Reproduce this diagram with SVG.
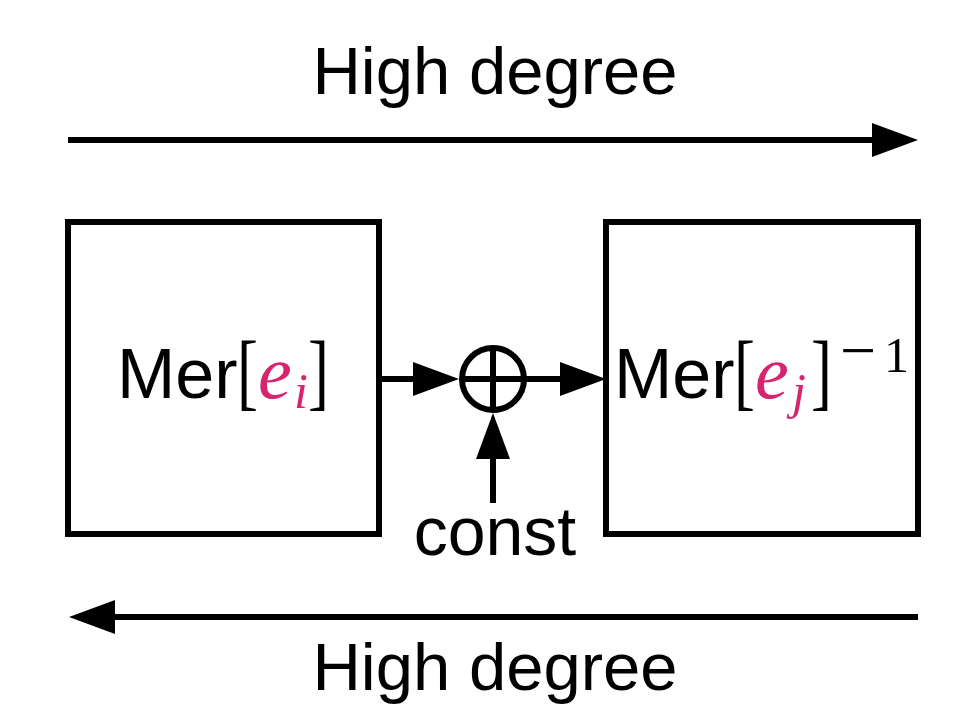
<svg xmlns="http://www.w3.org/2000/svg" width="963" height="714" viewBox="0 0 963 714">
<style>
.sans{font-family:"Liberation Sans",Arial,sans-serif;fill:#000}
.serif{font-family:"Liberation Serif","Times New Roman",serif;fill:#000}
.br{font-family:"Liberation Serif","Times New Roman",serif;fill:#000;font-size:84px}
.mi{font-family:"Liberation Serif","Times New Roman",serif;font-style:italic;fill:#d6246e}
.ln{stroke:#000;stroke-width:6;fill:none}
.box{stroke:#000;stroke-width:6;fill:#fff}
</style>
<defs>
<marker id="ah" markerUnits="userSpaceOnUse" markerWidth="46" markerHeight="34" refX="36" refY="17" orient="auto">
<path d="M0,0 L46,17 L0,34 z" fill="#000"/>
</marker>
</defs>
<text class="sans" x="495" y="94" font-size="67" text-anchor="middle">High degree</text>
<text class="sans" x="495" y="690" font-size="67" text-anchor="middle">High degree</text>
<g id="left">
<rect class="box" x="68" y="222" width="311" height="312"/>
<text class="sans" x="117" y="398" font-size="70">Mer</text>
<text class="br" transform="translate(237,400) scale(0.75,1)">[</text>
<text class="mi" x="258" y="398" font-size="76">e</text>
<text class="mi" x="294" y="408" font-size="50">i</text>
<text class="br" transform="translate(308,400) scale(0.75,1)">]</text>
</g>
<g id="right">
<rect class="box" x="606" y="222" width="312" height="312"/>
<text class="sans" x="614" y="398" font-size="70">Mer</text>
<text class="br" transform="translate(734,400) scale(0.75,1)">[</text>
<text class="mi" x="755" y="398" font-size="76">e</text>
<text class="mi" x="792" y="408" font-size="50">j</text>
<text class="br" transform="translate(811,400) scale(0.75,1)">]</text>
<text class="serif" x="840" y="372" font-size="64">−</text>
<text class="serif" x="884" y="372" font-size="50">1</text>
</g>
<g id="sum">
<circle class="ln" cx="493" cy="379" r="31"/>
<line class="ln" x1="493" y1="348" x2="493" y2="410"/>
<line class="ln" x1="462" y1="379" x2="524" y2="379"/>
</g>
<text id="const" class="sans" x="495" y="555" font-size="68" text-anchor="middle">const</text>
<g id="connectors">
<line class="ln" x1="68" y1="140" x2="908" y2="140" marker-end="url(#ah)"/>
<line class="ln" x1="918" y1="617" x2="79" y2="617" marker-end="url(#ah)"/>
<line class="ln" x1="379" y1="379" x2="449" y2="379" marker-end="url(#ah)"/>
<line class="ln" x1="524" y1="379" x2="596" y2="379" marker-end="url(#ah)"/>
<line class="ln" x1="493" y1="503" x2="493" y2="423" marker-end="url(#ah)"/>
</g>
</svg>
